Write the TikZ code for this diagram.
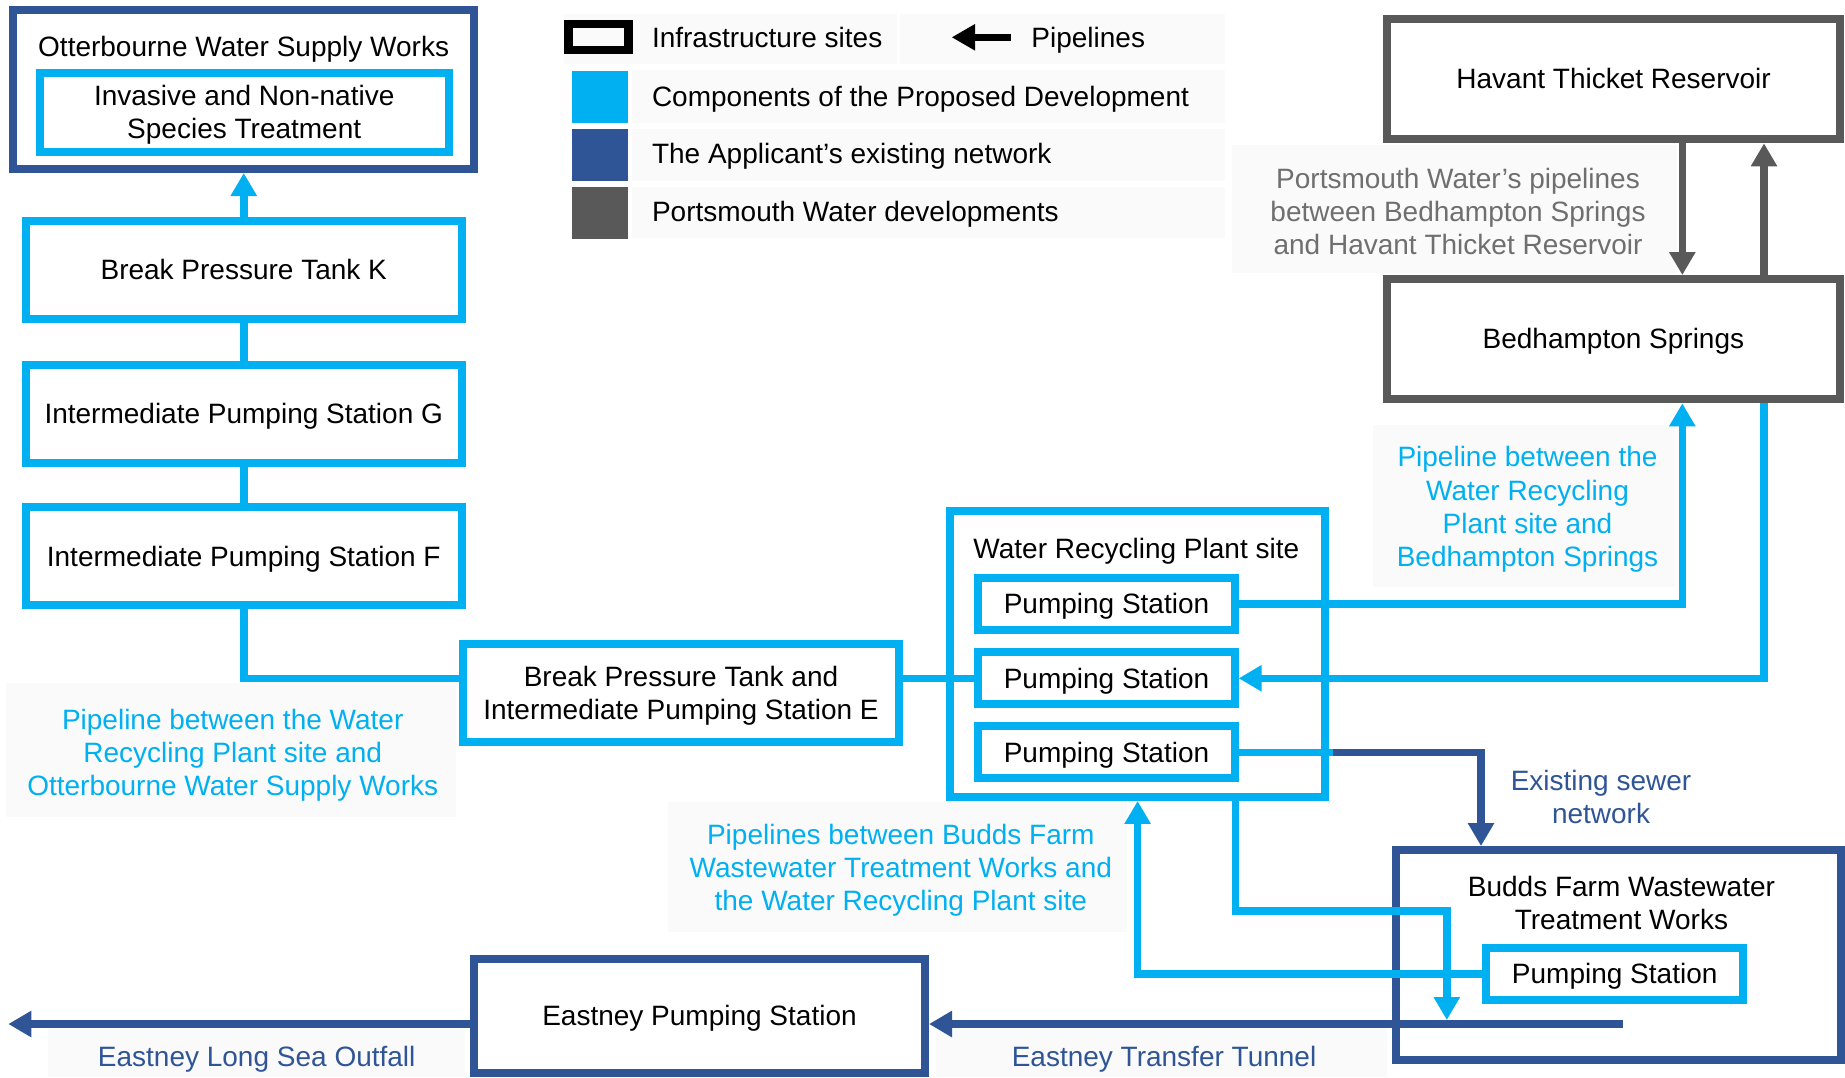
\documentclass[tikz,border=0pt]{standalone}
\usepackage{fontspec}
\setmainfont{Liberation Sans}
\usetikzlibrary{arrows.meta,calc}
\definecolor{cy}{HTML}{00B0F0}
\definecolor{nv}{HTML}{2F5597}
\definecolor{gy}{HTML}{595959}
\definecolor{gyt}{HTML}{6F6F6F}
\definecolor{bgf}{HTML}{FAFAFA}
\newcommand\lnstrut{\rule[-0.212em]{0pt}{1.117em}}
\begin{document}
\begin{tikzpicture}[x=0.5pt,y=-0.5pt,
  txt/.style={font=\fontsize{14}{16.6}\selectfont, align=center, inner sep=0pt,
    execute at begin node=\lnstrut, execute at end node=\lnstrut},
  ml/.style={yshift=-1.4pt},
  site/.style={draw, line width=4pt, inner sep=0pt, txt},
  cybox/.style={site, draw=cy},
  nvbox/.style={site, draw=nv},
  gybox/.style={site, draw=gy},
  pipe/.style={line width=3.8pt},
  cyp/.style={pipe, draw=cy},
  nvp/.style={pipe, draw=nv},
  gyp/.style={pipe, draw=gy},
  arr/.style={-{Triangle[length=11.5pt,width=12.5pt]}},
  legtxt/.style={txt, anchor=west},
  swatch/.style={inner sep=0pt, minimum width=28.2pt, minimum height=26pt}
]
\useasboundingbox (0,0) rectangle (1845,1077);

% faint label backgrounds
\fill[bgf] (6,683) rectangle (456,817);
\fill[bgf] (1373,425) rectangle (1675,587);
\fill[bgf] (1232,145) rectangle (1677,273);
\fill[bgf] (668,802) rectangle (1127,932);
\fill[bgf] (48,1028) rectangle (465,1077);
\fill[bgf] (936,1028) rectangle (1387,1077);
\fill[bgf] (564,14) rectangle (897,64);
\fill[bgf] (900,14) rectangle (1225,64);
\fill[bgf] (632,70) rectangle (1225,123);
\fill[bgf] (632,129) rectangle (1225,181);
\fill[bgf] (632,187) rectangle (1225,238);

% legend
\node[draw=black, line width=4.4pt, inner sep=0pt, minimum width=29.9pt, minimum height=13pt] (legbox) at (598.5,37) {};
\node[legtxt] (legT1) at (651.6,37.3) {Infrastructure sites};
\coordinate (legA) at (1011,37.3);
\coordinate (legB) at (951.6,37.3);
\draw[pipe, draw=black, -{Triangle[length=11.8pt,width=12.5pt]}] (legA) -- (legB);
\node[legtxt] (legT2) at (1031,37.3) {Pipelines};
\node[swatch, fill=cy] (sw1) at (600.2,96.7) {};
\node[swatch, fill=nv] (sw2) at (600.2,154.9) {};
\node[swatch, fill=gy] (sw3) at (600.2,212.5) {};
\node[legtxt] (legT3) at (651.6,96.7) {Components of the Proposed Development};
\node[legtxt] (legT4) at (651.6,154) {The Applicant’s existing network};
\node[legtxt] (legT5) at (651.6,211.7) {Portsmouth Water developments};

% left column
\node[nvbox, minimum width=230.5pt, minimum height=79.5pt] (otter) at (243.5,89.5) {};
\node[txt] (otterT) at (243.6,46.7) {Otterbourne Water Supply Works};
\node[cybox, minimum width=204.5pt, minimum height=39.35pt] (inns) at (244.2,112.3) {};
\node[txt, ml] (innsT) at (244.2,112.3) {Invasive and Non-native\\Species Treatment};
\node[cybox, minimum width=218pt, minimum height=49pt] (bptK) at (243.75,270) {Break Pressure Tank K};
\node[cybox, minimum width=218pt, minimum height=49pt] (ipsG) at (243.75,413.5) {Intermediate Pumping Station G};
\node[cybox, minimum width=218pt, minimum height=49pt] (ipsF) at (243.75,556.3) {Intermediate Pumping Station F};
\node[cybox, minimum width=218pt, minimum height=48.85pt] (bptE) at (681,693) {};
\node[txt, ml] (bptET) at (681,693) {Break Pressure Tank and\\Intermediate Pumping Station E};

% water recycling plant
\node[cybox, minimum width=187.15pt, minimum height=143.15pt] (wrp) at (1137.6,653.8) {};
\node[txt] (wrpT) at (1136.3,548.3) {Water Recycling Plant site};
\node[cybox, minimum width=128.15pt, minimum height=26pt] (ps1) at (1106.5,604) {Pumping Station};
\node[cybox, minimum width=128.15pt, minimum height=26pt] (ps2) at (1106.5,678.3) {Pumping Station};
\node[cybox, minimum width=128.15pt, minimum height=26pt] (ps3) at (1106.5,752.3) {Pumping Station};

% Portsmouth Water
\node[gybox, minimum width=226.2pt, minimum height=60.15pt] (havant) at (1613.6,79.2) {Havant Thicket Reservoir};
\node[gybox, minimum width=226.2pt, minimum height=60.15pt] (bed) at (1613.4,339.2) {Bedhampton Springs};

% Budds Farm
\node[nvbox, minimum width=222.5pt, minimum height=105.15pt] (budds) at (1618.5,955.2) {};
\node[txt, ml] (buddsT) at (1621.4,903.3) {Budds Farm Wastewater\\Treatment Works};
\node[cybox, minimum width=128.3pt, minimum height=26.15pt] (buddsPS) at (1614.7,974.2) {Pumping Station};

% Eastney
\node[nvbox, minimum width=225.5pt, minimum height=57pt] (eastney) at (699.5,1016) {Eastney Pumping Station};

% labels
\node[txt, ml, text=cy] (labOtter) at (232.7,752.5) {Pipeline between the Water\\Recycling Plant site and\\Otterbourne Water Supply Works};
\node[txt, ml, text=cy] (labBed) at (1527.5,506.7) {Pipeline between the\\Water Recycling\\Plant site and\\Bedhampton Springs};
\node[txt, ml, text=gyt] (labPort) at (1458,211.7) {Portsmouth Water’s pipelines\\between Bedhampton Springs\\and Havant Thicket Reservoir};
\node[txt, ml, text=cy] (labBudds) at (900.8,867.8) {Pipelines between Budds Farm\\Wastewater Treatment Works and\\the Water Recycling Plant site};
\node[txt, ml, text=nv] (labSewer) at (1601,796.7) {Existing sewer\\network};
\node[txt, text=nv] (labOut) at (256.7,1056.7) {Eastney Long Sea Outfall};
\node[txt, text=nv] (labTun) at (1164,1056.7) {Eastney Transfer Tunnel};

% bend coordinates
\coordinate (colA) at (1682.3,0);
\coordinate (colB) at (1764,0);
\coordinate (colC) at (1481,0);
\coordinate (b1) at (1235.4,910.7);
\coordinate (b2) at (1446.8,910.7);
\coordinate (tunS) at (1622.6,1024);
\coordinate (outE) at (8.3,1024);

% connectors
\draw[cyp,arr] (bptK.north) -- (bptK.north |- otter.south);
\draw[cyp] (bptK.south) -- (ipsG.north);
\draw[cyp] (ipsG.south) -- (ipsF.north);
\draw[cyp] (ipsF.south) |- (ps2.west -| bptE.west);
\draw[cyp] (ps2.west -| bptE.east) -- (ps2.west);
\draw[cyp,arr] (ps1.east) -| (bed.south -| colA);
\draw[cyp,arr] (bed.south -| colB) |- (ps2.east);
\draw[gyp,arr] (havant.south -| colA) -- (bed.north -| colA);
\draw[gyp,arr] (bed.north -| colB) -- (havant.south -| colB);
\draw[cyp] (ps3.east) -- ($(wrp.east |- ps3.east)+(4,0)$);
\draw[nvp,arr] ($(wrp.east |- ps3.east)+(4,0)$) -| (budds.north -| colC);
\draw[cyp,arr] (wrp.south -| b1) |- (b2) -- ($(b2 |- tunS)+(0,-4)$);
\draw[cyp,arr] (buddsPS.west) -| (wrp.south);
\draw[nvp,arr] (tunS) -- (tunS -| eastney.east);
\draw[nvp,arr] (tunS -| eastney.west) -- (outE);
\end{tikzpicture}
\end{document}
